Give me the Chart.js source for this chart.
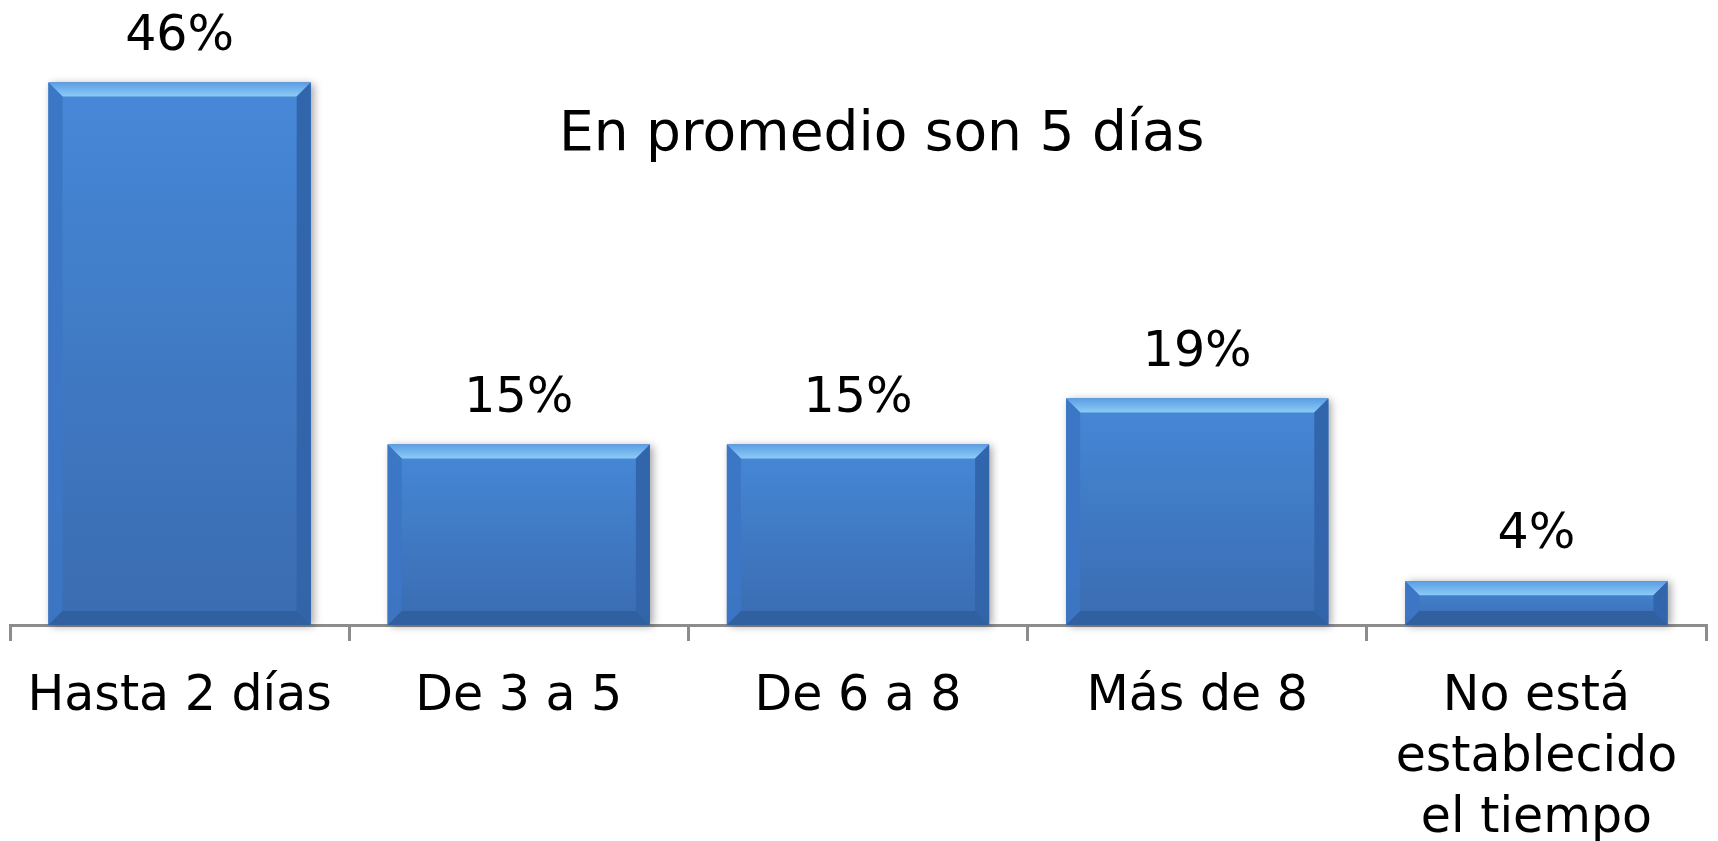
<!DOCTYPE html>
<html>
<head>
<meta charset="utf-8">
<script src="https://cdn.jsdelivr.net/npm/chart.js@4/dist/chart.umd.min.js"></script>
<style>
  html, body { margin: 0; padding: 0; background: #ffffff; }
  #wrap { width: 1718px; height: 841px; position: relative; }
</style>
</head>
<body>
<div id="wrap"><canvas id="c" width="1718" height="841"></canvas></div>
<script>
const categories = ["Hasta 2 días", "De 3 a 5", "De 6 a 8", "Más de 8", ["No está", "establecido", "el tiempo"]];
const percentages = [46, 15.3, 15.3, 19.2, 3.7];
const valueLabels = ["46%", "15%", "15%", "19%", "4%"];
const noteText = "En promedio son 5 días";

const FONT = "'DejaVu Sans', Verdana, sans-serif";

const bevelPlugin = {
  id: 'bevel',
  afterDatasetsDraw(chart) {
    const ctx = chart.ctx;
    const meta = chart.getDatasetMeta(0);
    meta.data.forEach((bar) => {
      const p = bar.getProps(['x', 'y', 'base', 'width'], true);
      const l = p.x - p.width / 2, r = p.x + p.width / 2, t = p.y, b = p.base;
      const bv = Math.min(14, (b - t) / 2);
      ctx.save();
      ctx.shadowColor = 'rgba(0,0,0,0.35)';
      ctx.shadowBlur = 8;
      ctx.shadowOffsetX = 3;
      ctx.shadowOffsetY = 1;
      const g = ctx.createLinearGradient(0, t, 0, b);
      g.addColorStop(0, '#4688d8');
      g.addColorStop(1, '#3a6cb0');
      ctx.fillStyle = g;
      ctx.fillRect(l, t, r - l, b - t);
      ctx.shadowColor = 'transparent';
      const gt = ctx.createLinearGradient(0, t, 0, t + bv);
      gt.addColorStop(0, '#5c9ee4');
      gt.addColorStop(1, '#8cccf6');
      ctx.fillStyle = gt;
      ctx.beginPath();
      ctx.moveTo(l, t); ctx.lineTo(r, t); ctx.lineTo(r - bv, t + bv); ctx.lineTo(l + bv, t + bv); ctx.closePath();
      ctx.fill();
      ctx.fillStyle = 'rgba(60,118,196,0.95)';
      ctx.beginPath();
      ctx.moveTo(l, t); ctx.lineTo(l + bv, t + bv); ctx.lineTo(l + bv, b - bv); ctx.lineTo(l, b); ctx.closePath();
      ctx.fill();
      ctx.fillStyle = 'rgba(50,100,170,0.95)';
      ctx.beginPath();
      ctx.moveTo(r, t); ctx.lineTo(r - bv, t + bv); ctx.lineTo(r - bv, b - bv); ctx.lineTo(r, b); ctx.closePath();
      ctx.fill();
      ctx.fillStyle = '#30609f';
      ctx.beginPath();
      ctx.moveTo(l, b); ctx.lineTo(l + bv, b - bv); ctx.lineTo(r - bv, b - bv); ctx.lineTo(r, b); ctx.closePath();
      ctx.fill();
      ctx.restore();
    });
  }
};

const labelPlugin = {
  id: 'valueLabels',
  afterDraw(chart) {
    const ctx = chart.ctx;
    const meta = chart.getDatasetMeta(0);
    ctx.save();
    ctx.fillStyle = '#000000';
    ctx.font = '49px ' + FONT;
    ctx.textAlign = 'center';
    ctx.textBaseline = 'alphabetic';
    meta.data.forEach((bar, i) => {
      ctx.fillText(valueLabels[i], bar.x, bar.y - 33);
    });
    const ca = chart.chartArea;
    ctx.font = '55px ' + FONT;
    ctx.fillText(noteText, ca.left + (ca.right - ca.left) * 0.514, 150);
    ctx.restore();
  }
};

new Chart(document.getElementById('c'), {
  type: 'bar',
  data: {
    labels: categories,
    datasets: [{
      data: percentages,
      backgroundColor: '#4282d2',
      borderWidth: 0,
      categoryPercentage: 1.0,
      barPercentage: 0.773
    }]
  },
  options: {
    responsive: false,
    animation: false,
    layout: { padding: { left: 10, right: 12, top: 0, bottom: 0 } },
    plugins: { legend: { display: false }, tooltip: { enabled: false }, title: { display: false } },
    scales: {
      y: { display: false, min: 0, max: 53 },
      x: {
        afterFit(scale) { scale.height = 216; },
        grid: { display: true, drawOnChartArea: false, drawTicks: true, tickLength: 16, color: '#8c8c8c', lineWidth: 3, offset: true },
        border: { display: true, color: '#8c8c8c', width: 3 },
        ticks: { color: '#000000', font: { family: FONT, size: 49, lineHeight: 1.24 }, padding: 26, maxRotation: 0, autoSkip: false }
      }
    }
  },
  plugins: [bevelPlugin, labelPlugin]
});
</script>
</body>
</html>
